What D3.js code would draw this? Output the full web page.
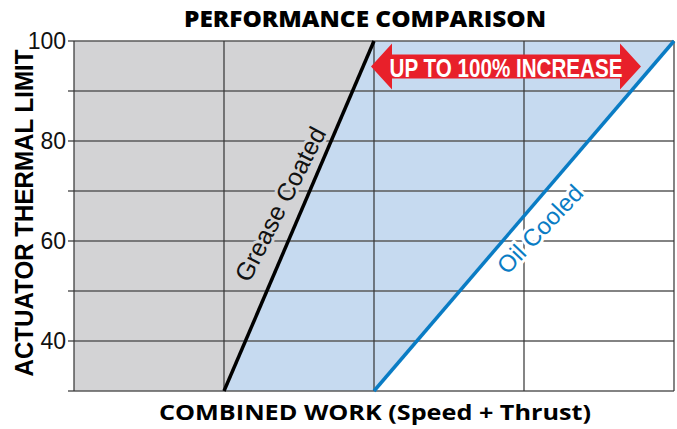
<!DOCTYPE html>
<html>
<head>
<meta charset="utf-8">
<script src="https://cdn.jsdelivr.net/npm/d3@7"></script>
<style>
body { margin: 0; background: #fff; }
</style>
</head>
<body>
<script>
// chart data
var xGrid   = [0, 1, 2, 3, 4];
var yGrid   = [30, 40, 50, 60, 70, 80, 90, 100];
var yLabels = [40, 60, 80, 100];
var grease  = [{x: 1, y: 30}, {x: 2, y: 100}];
var oil     = [{x: 2, y: 30}, {x: 4, y: 100}];
var arrowSpan = [1.98, 3.78];
var arrowY    = 94.9;
var titleText  = "PERFORMANCE COMPARISON";
var xLabelText = "COMBINED WORK (Speed + Thrust)";
var yLabelText = "ACTUATOR THERMAL LIMIT";
var arrowText  = "UP TO 100% INCREASE";

var width = 677, height = 429;
var plotLeft = 74, plotRight = 674, plotTop = 41, plotBottom = 391;

var svg = d3.select("body").append("svg").attr("width", width).attr("height", height);

var x = d3.scaleLinear().domain([0, 4]).range([plotLeft, plotRight]);
var y = d3.scaleLinear().domain([30, 100]).range([plotBottom, plotTop]);

// fills
var area = d3.line().x(function(d){ return x(d.x); }).y(function(d){ return y(d.y); });
var grayPoly = [{x: 0, y: 30}, grease[0], grease[1], {x: 0, y: 100}];
var bluePoly = [grease[0], oil[0], oil[1], grease[1]];
svg.append("path").attr("d", area(grayPoly) + "Z").attr("fill", "#d3d3d5");
svg.append("path").attr("d", area(bluePoly) + "Z").attr("fill", "#c6daf0");

// grid
svg.selectAll(".hgrid").data(yGrid).enter().append("line")
  .attr("x1", plotLeft - 6).attr("x2", plotRight)
  .attr("y1", function(d){ return y(d); }).attr("y2", function(d){ return y(d); })
  .attr("stroke", "#5a5a5a").attr("stroke-width", 1.5);
svg.selectAll(".vgrid").data(xGrid).enter().append("line")
  .attr("x1", function(d){ return x(d); }).attr("x2", function(d){ return x(d); })
  .attr("y1", plotTop).attr("y2", plotBottom)
  .attr("stroke", "#333").attr("stroke-width", 1.2);

// tick labels
svg.selectAll(".ylab").data(yLabels).enter().append("text")
  .attr("x", plotLeft - 8).attr("y", function(d){ return y(d) + 8; })
  .attr("text-anchor", "end")
  .attr("font-family", "'Liberation Sans Narrow', 'Arial Narrow', 'Liberation Sans', sans-serif")
  .attr("font-size", 23).attr("fill", "#111")
  .text(function(d){ return d; });

// labels along lines (drawn before lines so halo does not cover them)
function lineAngle(p) {
  return Math.atan2(y(p[1].y) - y(p[0].y), x(p[1].x) - x(p[0].x)) * 180 / Math.PI;
}
svg.append("text")
  .attr("transform", "translate(" + 288 + "," + 208 + ") rotate(" + (lineAngle(grease) + 4) + ")")
  .attr("text-anchor", "middle")
  .attr("font-family", "'Liberation Sans', Arial, sans-serif")
  .attr("font-size", 25).attr("fill", "#111")
  .attr("stroke", "#d3d3d5").attr("stroke-width", 6).attr("paint-order", "stroke")
  .text("Grease Coated");
svg.append("text")
  .attr("transform", "translate(" + 546 + "," + 235 + ") rotate(" + (lineAngle(oil) + 3) + ")")
  .attr("text-anchor", "middle")
  .attr("font-family", "'Liberation Sans', Arial, sans-serif")
  .attr("font-size", 24).attr("fill", "#0a7cc4")
  .attr("stroke", "#fff").attr("stroke-width", 6).attr("paint-order", "stroke")
  .text("Oil Cooled");

// performance lines
svg.append("path").datum(grease).attr("d", area)
  .attr("stroke", "#000").attr("stroke-width", 3.5).attr("fill", "none");
svg.append("path").datum(oil).attr("d", area)
  .attr("stroke", "#0a7cc4").attr("stroke-width", 3.5).attr("fill", "none");

// double arrow
var ax0 = x(arrowSpan[0]), ax1 = x(arrowSpan[1]), ay = y(arrowY);
var headW = 21, headH = 23, bodyH = 12;
var arrowPts = [
  [ax0, ay], [ax0 + headW, ay - headH], [ax0 + headW, ay - bodyH],
  [ax1 - headW, ay - bodyH], [ax1 - headW, ay - headH], [ax1, ay],
  [ax1 - headW, ay + headH], [ax1 - headW, ay + bodyH],
  [ax0 + headW, ay + bodyH], [ax0 + headW, ay + headH]
];
svg.append("path").attr("d", d3.line()(arrowPts) + "Z").attr("fill", "#e8202a");
svg.append("text")
  .attr("x", (ax0 + ax1) / 2).attr("y", ay + 10)
  .attr("text-anchor", "middle")
  .attr("font-family", "'Liberation Sans Narrow', 'Liberation Sans', sans-serif")
  .attr("font-weight", "bold").attr("font-size", 26).attr("fill", "#fff")
  .attr("textLength", 233).attr("lengthAdjust", "spacingAndGlyphs")
  .text(arrowText);

// titles
svg.append("text")
  .attr("x", 365).attr("y", 27).attr("text-anchor", "middle")
  .attr("font-family", "'Open Sans', Roboto, sans-serif").attr("font-weight", 800)
  .attr("font-size", 23).attr("fill", "#000")
  .attr("textLength", 362).attr("lengthAdjust", "spacingAndGlyphs")
  .text(titleText);
svg.append("text")
  .attr("x", 375).attr("y", 420).attr("text-anchor", "middle")
  .attr("font-family", "'Open Sans', Roboto, sans-serif").attr("font-weight", 700)
  .attr("font-size", 22).attr("fill", "#000")
  .attr("textLength", 432).attr("lengthAdjust", "spacingAndGlyphs")
  .text(xLabelText);
svg.append("text")
  .attr("transform", "translate(33,213) rotate(-90)").attr("text-anchor", "middle")
  .attr("font-family", "'Liberation Sans', Arial, sans-serif").attr("font-weight", "bold")
  .attr("font-size", 25).attr("fill", "#000")
  .attr("textLength", 327).attr("lengthAdjust", "spacingAndGlyphs")
  .text(yLabelText);
</script>
</body>
</html>
